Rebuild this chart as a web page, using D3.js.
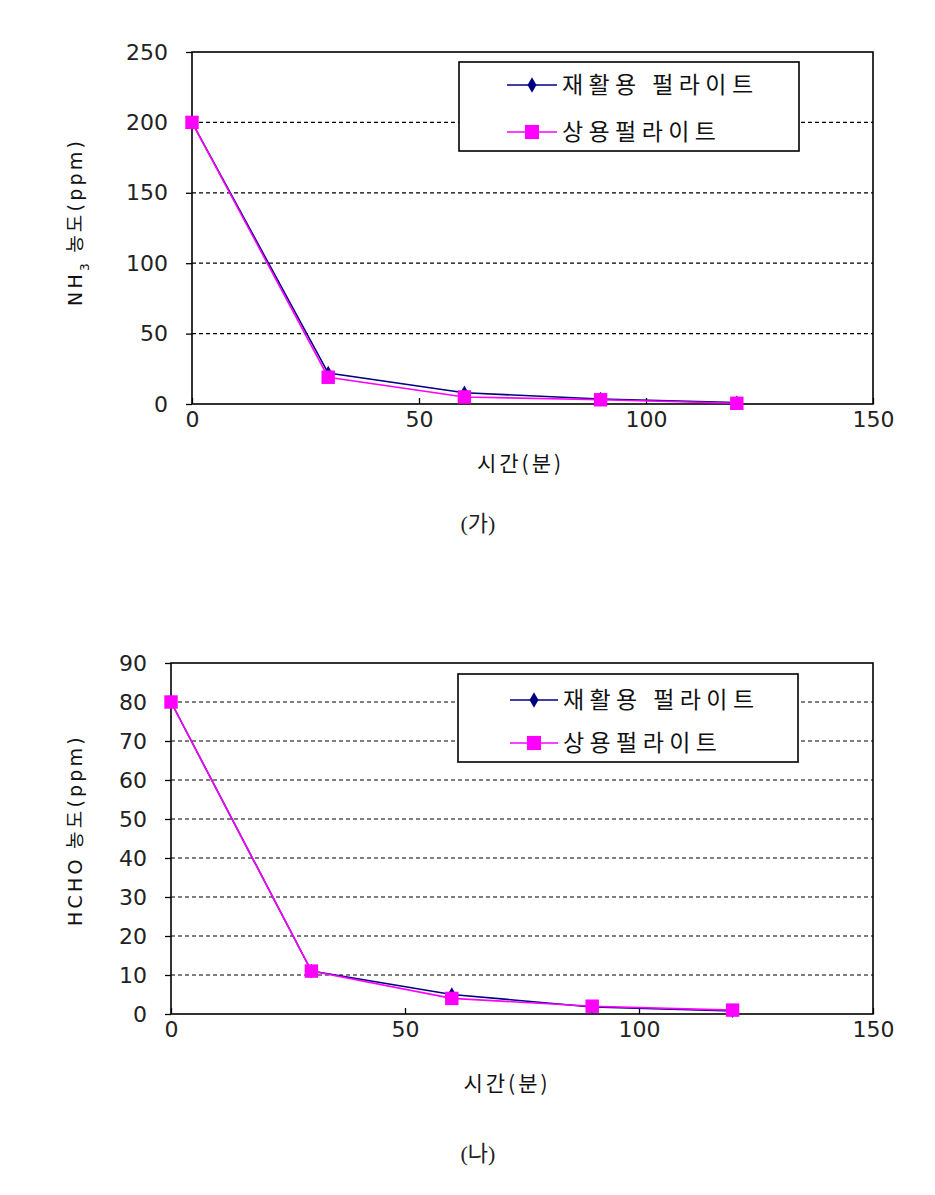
<!DOCTYPE html>
<html><head><meta charset="utf-8">
<script src="https://cdn.jsdelivr.net/npm/d3@7"></script>
<style>
body{margin:0;background:#fff;}
svg{display:block;}
</style></head>
<body>
<svg id="c" width="935" height="1195"></svg>
<script>
const timeMin = [0, 30, 60, 90, 120];
const nh3Recycled = [200, 22, 8, 3.5, 1];
const nh3Commercial = [200, 19, 5, 3, 0.5];
const hchoRecycled = [80, 11, 5, 1.8, 0.8];
const hchoCommercial = [80, 11, 4, 2, 1];
const seriesNames = ["재활용 펄라이트", "상용펄라이트"];
const xTicks = [0, 50, 100, 150];
const nh3Ticks = [0, 50, 100, 150, 200, 250];
const hchoTicks = [0, 10, 20, 30, 40, 50, 60, 70, 80, 90];
const xTitle = "시간(분)";
const captions = ["(가)", "(나)"];

const svg = d3.select("#c");
const numFont = "'DejaVu Sans', sans-serif";
const krFont = "'Noto Sans CJK KR', sans-serif";
const NAVY = "#000080", MAG = "#ff00ff";

function drawChart(cfg) {
  const g = svg.append("g");
  const x = d3.scaleLinear().domain([0, 150]).range([cfg.left, cfg.right]);
  const y = d3.scaleLinear().domain([0, cfg.yMax]).range([cfg.bottom, cfg.top]);

  g.append("g").selectAll("line").data(cfg.yTicks.filter(v => v > 0 && v < cfg.yMax)).join("line")
    .attr("x1", cfg.left).attr("x2", cfg.right)
    .attr("y1", d => y(d)).attr("y2", d => y(d))
    .attr("stroke", "#000").attr("stroke-width", 1.2).attr("stroke-dasharray", "4,3");

  const ya = g.append("g").attr("transform", `translate(${cfg.left},0)`)
    .call(d3.axisLeft(y).tickValues(cfg.yTicks).tickSize(6).tickPadding(18).tickFormat(d3.format("d")));
  ya.select(".domain").remove();
  ya.selectAll("line").attr("stroke", "#000").attr("stroke-width", 1.3);
  ya.selectAll("text").attr("font-family", numFont).attr("font-size", 22).attr("fill", "#222");

  const xa = g.append("g").attr("transform", `translate(0,${cfg.bottom})`)
    .call(d3.axisBottom(x).tickValues(xTicks).tickSizeInner(-6).tickSizeOuter(0).tickPadding(6).tickFormat(d3.format("d")));
  xa.select(".domain").remove();
  xa.selectAll("line").attr("stroke", "#000").attr("stroke-width", 1.3);
  xa.selectAll("text").attr("font-family", numFont).attr("font-size", 22).attr("fill", "#222").attr("dy", "0.75em");

  g.append("rect").attr("x", cfg.left).attr("y", cfg.top)
    .attr("width", cfg.right - cfg.left).attr("height", cfg.bottom - cfg.top)
    .attr("fill", "none").attr("stroke", "#000").attr("stroke-width", 1.6);

  const line = d3.line().x((d, i) => x(timeMin[i])).y(d => y(d));
  const diamond = d3.symbol().type(d3.symbolDiamond).size(60);
  const square = d3.symbol().type(d3.symbolSquare).size(180);

  g.append("path").datum(cfg.s1).attr("d", line).attr("fill", "none").attr("stroke", NAVY).attr("stroke-width", 1.6);
  g.append("g").selectAll("path").data(cfg.s1).join("path")
    .attr("transform", (d, i) => `translate(${x(timeMin[i])},${y(d)})`).attr("d", diamond).attr("fill", NAVY);
  g.append("path").datum(cfg.s2).attr("d", line).attr("fill", "none").attr("stroke", MAG).attr("stroke-width", 1.6);
  g.append("g").selectAll("path").data(cfg.s2).join("path")
    .attr("transform", (d, i) => `translate(${x(timeMin[i])},${y(d)})`).attr("d", square).attr("fill", MAG);

  const L = cfg.legend;
  g.append("rect").attr("x", L.x).attr("y", L.y).attr("width", L.w).attr("height", L.h)
    .attr("fill", "#fff").attr("stroke", "#000").attr("stroke-width", 1.6);
  const items = [{c: NAVY, sym: diamond, name: seriesNames[0]}, {c: MAG, sym: square, name: seriesNames[1]}];
  items.forEach((it, i) => {
    const yy = L.rows[i];
    g.append("line").attr("x1", L.lx1).attr("x2", L.lx2).attr("y1", yy).attr("y2", yy)
      .attr("stroke", it.c).attr("stroke-width", 1.6);
    g.append("path").attr("transform", `translate(${(L.lx1 + L.lx2) / 2},${yy})`)
      .attr("d", it.sym.size(i === 0 ? 70 : 200)()).attr("fill", it.c);
    g.append("text").attr("x", L.tx).attr("y", yy).attr("dy", "0.36em")
      .attr("font-family", krFont).attr("font-size", 23).attr("letter-spacing", 5.4)
      .attr("fill", "#111").text(it.name);
  });

  g.append("text").attr("x", (cfg.left + cfg.right) / 2 + cfg.xTitleDx).attr("y", cfg.xTitleY).attr("dy", "0.36em")
    .attr("text-anchor", "middle").attr("font-family", krFont).attr("font-size", 21)
    .attr("letter-spacing", 3).attr("fill", "#111").text(xTitle);

  const yt = g.append("text").attr("transform", `translate(${cfg.yTitleX},${cfg.yTitleY}) rotate(-90)`)
    .attr("text-anchor", "middle").attr("dy", "0.36em").attr("font-family", krFont).attr("font-size", 19)
    .attr("letter-spacing", 3.2).attr("fill", "#111");
  cfg.yTitle(yt);

  svg.append("text").attr("x", 478).attr("y", cfg.capY).attr("dy", "0.36em").attr("text-anchor", "middle")
    .attr("font-family", "'Liberation Serif', 'Noto Sans CJK KR', serif").attr("font-size", 22)
    .attr("fill", "#222").text(cfg.caption);
}

drawChart({
  left: 192, right: 873, top: 52, bottom: 404, yMax: 250, yTicks: nh3Ticks,
  s1: nh3Recycled, s2: nh3Commercial,
  legend: {x: 459, y: 62, w: 340, h: 89, rows: [85, 132], lx1: 507, lx2: 557, tx: 562},
  xTitleY: 463, xTitleDx: -12, yTitleX: 75, yTitleY: 222, capY: 523, caption: captions[0],
  yTitle: t => {
    t.append("tspan").attr("font-family", numFont).text("NH");
    t.append("tspan").attr("font-family", numFont).attr("font-size", 12).attr("baseline-shift", "sub").text("3");
    t.append("tspan").text(" 농도");
    t.append("tspan").attr("font-family", numFont).text("(ppm)");
  }
});

drawChart({
  left: 171, right: 873, top: 663, bottom: 1014, yMax: 90, yTicks: hchoTicks,
  s1: hchoRecycled, s2: hchoCommercial,
  legend: {x: 458, y: 674, w: 340, h: 88, rows: [700, 743], lx1: 510, lx2: 558, tx: 563},
  xTitleY: 1083, xTitleDx: -15, yTitleX: 75, yTitleY: 830, capY: 1153, caption: captions[1],
  yTitle: t => {
    t.append("tspan").attr("font-family", numFont).text("HCHO");
    t.append("tspan").text(" 농도");
    t.append("tspan").attr("font-family", numFont).text("(ppm)");
  }
});
</script>
</body></html>
